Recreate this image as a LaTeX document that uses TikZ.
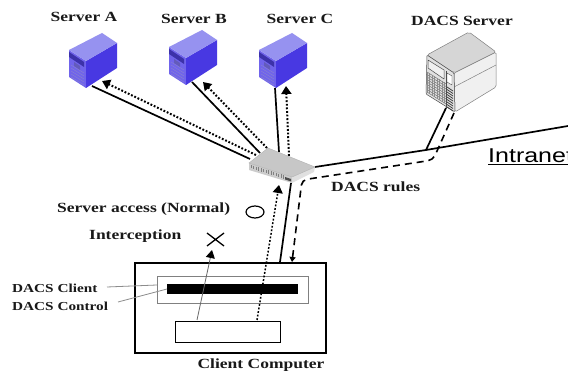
\documentclass[tikz,border=0pt]{standalone}
\usepackage{graphicx}
\usepackage{fontspec}
\setmainfont{Liberation Serif}
\newfontfamily\intrafont{Liberation Sans}
\usetikzlibrary{arrows.meta,shapes.geometric}
\newcommand{\widetxt}[1]{\scalebox{1.25}[1]{#1}}
\definecolor{srvTop}{RGB}{150,146,240}
\definecolor{srvSide}{RGB}{72,56,226}
\definecolor{srvFront}{RGB}{112,100,235}
\definecolor{srvDark}{RGB}{60,50,170}
\tikzset{
  lbl/.style={font=\bfseries\fontsize{14}{16}\selectfont,inner sep=0pt,text=black!90},
  smalllbl/.style={font=\bfseries\fontsize{12.2}{14}\selectfont,inner sep=0pt,text=black!90},
  solidlink/.style={line width=1.7pt},
  dotlink/.style={line width=2pt,dash pattern=on 1.8pt off 1.8pt,-{Triangle[length=8pt,width=10pt]}},
  dashlink/.style={line width=1.6pt,dash pattern=on 7pt off 5pt},
  graylink/.style={draw=black!45,line width=.8pt},
  srv/.pic={
    \fill[srvFront] (0,0) -- (17,11) -- (17,38) -- (0,27) -- cycle;
    \fill[srvSide] (17,11) -- (48,-7) -- (48,18) -- (17,38) -- cycle;
    \fill[srvTop] (0,0) -- (33,-17) -- (48,-7) -- (17,11) -- cycle;
    \fill[srvDark] (0,2) -- (15,12) -- (15,17) -- (0,7) -- cycle;
    \fill[srvDark!80] (5,12) -- (11,16) -- (11,20) -- (5,16) -- cycle;
    \foreach \k in {0,3,...,12} \draw[srvDark!60,line width=.4pt] (2,{15+\k}) -- (15,{23+\k});
  }
}
\begin{document}
\begin{tikzpicture}[x=1pt,y=-1pt]
\useasboundingbox (0,0) rectangle (568,371);
\clip (0,0) rectangle (568,371);
\fill[white] (0,0) rectangle (568,371);

% servers
\pic (sa) at (69,50) {srv};
\pic (sb) at (169,47) {srv};
\pic (sc) at (259,50) {srv};
\node[lbl] (la) at (84,17) {\widetxt{Server A}};
\node[lbl] (lb) at (194,19) {\widetxt{Server B}};
\node[lbl] (lc) at (300,19) {\widetxt{Server C}};
\node[lbl] (ld) at (462,21) {\widetxt{DACS Server}};

% named link ends
\coordinate (aS) at (92,86);  \coordinate (swA) at (250,159);
\coordinate (aD) at (102,81); \coordinate (swAd) at (256,155);
\coordinate (bS) at (192,82); \coordinate (swB) at (260,153);
\coordinate (bD) at (203,82); \coordinate (swBd) at (267,148);
\coordinate (cS) at (275,88); \coordinate (swC) at (279,152);
\coordinate (cD) at (286,86); \coordinate (swCd) at (289,156);
\coordinate (swR) at (315,167);
\coordinate (junc) at (426,150);
\coordinate (east) at (568,126);
\coordinate (juncD) at (433,160);
\coordinate (swDash) at (302,180);
\coordinate (dsS) at (446,108);
\coordinate (dsD) at (454,113);
\coordinate (clS) at (280,262);
\coordinate (clD) at (292,262);
\coordinate (swClS) at (291,183);
\coordinate (swClD) at (279,185);
\coordinate (appD) at (257,320);
\coordinate (appI) at (197,320);
\coordinate (xTip) at (212,250);

% links
\draw[solidlink] (aS) -- (swA);
\draw[dotlink] (swAd) -- (aD);
\draw[solidlink] (bS) -- (swB);
\draw[dotlink] (swBd) -- (bD);
\draw[solidlink] (cS) -- (swC);
\draw[dotlink] (swCd) -- (cD);
\draw[solidlink] (swR) -- (junc) -- (east);
\draw[solidlink] (junc) -- (dsS);
\draw[dashlink,rounded corners=5pt,-{Triangle[length=5pt,width=6pt]}] (dsD) -- (juncD) -- (swDash) -- (clD);
\draw[solidlink] (swClS) -- (clS);

% DACS server
\begin{scope}[line join=round]
\fill[black!6,draw=black!50,line width=.5pt,rounded corners=1.5pt] (454,73) -- (496,52) -- (496,87) -- (455,112) -- cycle;
\draw[black!50,line width=.5pt] (454,87) -- (496,65);
\fill[black!16,draw=black!50,line width=.5pt,rounded corners=2pt] (427,55) -- (469,32) -- (496,52) -- (454,73) -- cycle;
\fill[black!12,draw=black!70,line width=.5pt,rounded corners=1pt] (427,55) -- (454,73) -- (455,112) -- (426,94) -- cycle;
\fill[black!6,draw=black!70,line width=.5pt] (428,60) -- (444,70) -- (444,79) -- (428,68) -- cycle;
\draw[black!70,line width=.5pt] (446,71) -- (446,108);
\fill[white,draw=black!70,line width=.4pt] (447,73) -- (452,76) -- (452,85) -- (447,82) -- cycle;
\foreach \k in {0,2.5,...,20} \draw[black!55,line width=.5pt] (427,{72+\k}) -- (446,{84+\k});
\foreach \k in {0,2.5,...,17.5} \draw[black!45,line width=.4pt] ({427+\k},{72+.6*\k}) -- ({427+\k},{93+.6*\k});
\foreach \k in {0,2.5,...,20} \draw[black!75,line width=.8pt] (447,{87+\k}) -- (453,{91+\k});
\end{scope}

% switch
\fill[black!20] (249,163) -- (292,177) -- (292,183) -- (249,170) -- cycle;
\foreach \k in {0,2.5,...,32.5} \draw[black!50,line width=.8pt] ({251+\k},{165+.31*\k}) -- ({251+\k},{168.5+.31*\k});
\fill[black!70,line width=.4pt] (285,177) -- (291,179) -- (291,181.5) -- (285,179.5) -- cycle;
\fill[black!12] (292,177) -- (315,167) -- (314,172) -- (292,183) -- cycle;
\fill[black!22,draw=black!30,line width=.4pt] (268,148) -- (315,167) -- (292,177) -- (249,163) -- cycle;

% client computer
\node[draw,line width=1.6pt,inner sep=0pt,anchor=north west,minimum width=191pt,minimum height=90pt] (client) at (134,262) {};
\node[draw=black!50,line width=.9pt,fill=white,inner sep=0pt,anchor=north west,minimum width=151pt,minimum height=27pt] (dclient) at (157,276) {};
\node[fill=black,inner sep=0pt,anchor=north west,minimum width=131pt,minimum height=10pt] (dctrl) at (167,284) {};
\node[draw,line width=1.2pt,fill=white,inner sep=0pt,anchor=north west,minimum width=105pt,minimum height=21pt] (app) at (175,321) {};

\draw[dotlink,line width=1.5pt] (appD) -- (swClD);
\draw[black!60,line width=.8pt,-{Triangle[length=8pt,width=9pt,color=black]}] (appI) -- (xTip);

% legend
\node[lbl,anchor=west] (access) at (57,209) {\widetxt{Server access (Normal)}};
\node[lbl,anchor=west] (interc) at (89,236) {\widetxt{Interception}};
\node[draw,ellipse,line width=1.2pt,minimum width=18pt,minimum height=12pt,inner sep=0pt] (okmark) at (255,212) {};
\draw[line width=1.3pt] (207,233) -- (224,246) (224,233) -- (207,246);

% labels
\node[lbl,anchor=west] (rules) at (331,187) {\widetxt{DACS rules}};
\node[smalllbl,anchor=west] (lclient) at (12,288) {\widetxt{DACS Client}};
\node[smalllbl,anchor=west] (lctrl) at (12,306) {\widetxt{DACS Control}};
\node[lbl,anchor=center] (lcomp) at (261,365) {\widetxt{Client Computer}};
\draw[graylink] (107,287) -- (dclient.west |- 0,285);
\draw[graylink] (118,302) -- (dctrl.west |- 0,289);
\node[anchor=base west,inner sep=0pt,font=\intrafont\fontsize{20}{24}\selectfont] (intra) at (488,163) {\widetxt{\underline{Intranet}}};
\end{tikzpicture}
\end{document}
